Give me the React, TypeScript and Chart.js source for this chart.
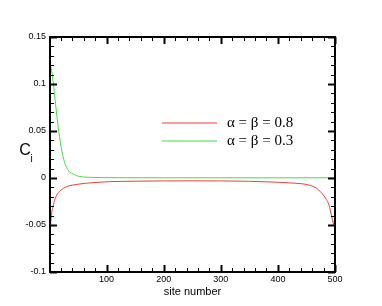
import React, { useEffect, useRef } from 'react';
import { Chart, registerables } from 'chart.js';

Chart.register(...registerables);

const redLabel = 'α = β = 0.8';
const greenLabel = 'α = β = 0.3';
const redColor = 'rgb(240,60,60)';
const greenColor = 'rgb(70,220,70)';

const redSites = [1, 2, 3, 4, 6, 8, 10, 13, 16, 20, 25, 32, 40, 50, 65, 85, 105, 150, 200, 250, 300, 350, 400, 420, 440, 456, 468, 475, 480, 485, 489, 492, 495, 497, 500];
const redValues = [-0.06, -0.05, -0.043, -0.037, -0.031, -0.026, -0.022, -0.018, -0.0155, -0.013, -0.0108, -0.0088, -0.0076, -0.0066, -0.0055, -0.0046, -0.0039, -0.0034, -0.0031, -0.003, -0.0031, -0.0035, -0.0045, -0.0052, -0.006, -0.0078, -0.011, -0.015, -0.0185, -0.023, -0.028, -0.035, -0.043, -0.048, -0.052];

const greenSites = [1, 4, 7, 10, 13, 16, 19, 22, 25, 28, 32, 36, 41, 48, 58, 70, 90, 120, 200, 300, 400, 500];
const greenValues = [0.121, 0.114, 0.1, 0.083, 0.066, 0.051, 0.038, 0.028, 0.02, 0.014, 0.009, 0.006, 0.0045, 0.0024, 0.0012, 0.0007, 0.0004, 0.0003, 0.0002, 0.0002, 0.0002, 0.0002];

const xTickValues = [100, 200, 300, 400, 500];
const yTickValues = [-0.1, -0.05, 0, 0.05, 0.1, 0.15];
const xRange = [1, 500];
const yRange = [-0.1, 0.15];
const xTitle = 'site number';
const yTitleMain = 'C';
const yTitleSub = 'i';
const legendColors = [redColor, greenColor];
const legendLabels = [redLabel, greenLabel];

const fmt = (v: number) => String(parseFloat(v.toFixed(3)));

const framePlugin = {
  id: 'frameTicks',
  afterDatasetsDraw(chart: any) {
    const { ctx, chartArea: a, scales } = chart;
    const xs = scales.x;
    const ys = scales.y;
    ctx.save();
    ctx.strokeStyle = '#000';
    const seg = (x1: number, y1: number, x2: number, y2: number) => {
      ctx.beginPath();
      ctx.moveTo(x1, y1);
      ctx.lineTo(x2, y2);
      ctx.stroke();
    };
    for (let v = 20; v <= xRange[1]; v += 20) {
      const px = Math.round(xs.getPixelForValue(v)) + 0.5;
      const major = v % 100 === 0;
      const len = major ? 7 : 4;
      ctx.lineWidth = major ? 2 : 1;
      seg(px, a.bottom, px, a.bottom - len);
      seg(px, a.top, px, a.top + len);
    }
    for (let i = -10; i <= 15; i++) {
      const py = Math.round(ys.getPixelForValue(i / 100)) + 0.5;
      const major = i % 5 === 0;
      const len = major ? 7 : 4;
      ctx.lineWidth = major ? 2 : 1;
      seg(a.left, py, a.left + len, py);
      seg(a.right, py, a.right - len, py);
    }
    ctx.lineWidth = 2;
    ctx.strokeRect(a.left, a.top, a.right - a.left, a.bottom - a.top);
    ctx.restore();
  },
};

const textPlugin = {
  id: 'texts',
  afterDraw(chart: any) {
    const { ctx, chartArea: a } = chart;
    ctx.save();
    ctx.fillStyle = '#000';
    ctx.font = '11px "Liberation Sans", Arial, sans-serif';
    ctx.textAlign = 'center';
    ctx.textBaseline = 'middle';
    ctx.fillText(xTitle, (a.left + a.right) / 2, 292);
    ctx.font = '16px "Liberation Sans", Arial, sans-serif';
    ctx.textAlign = 'center';
    ctx.textBaseline = 'middle';
    ctx.fillText(yTitleMain, 25, 151);
    ctx.font = '10px "Liberation Sans", Arial, sans-serif';
    ctx.textAlign = 'left';
    ctx.fillText(yTitleSub, 30.5, 159);
    const rows = [123, 141];
    for (let k = 0; k < legendLabels.length; k++) {
      const y = rows[k];
      ctx.strokeStyle = legendColors[k];
      ctx.lineWidth = 1;
      ctx.beginPath();
      ctx.moveTo(162, y);
      ctx.lineTo(217, y);
      ctx.stroke();
      ctx.fillStyle = '#000';
      ctx.font = '15px "Liberation Serif", "Times New Roman", serif';
      ctx.textAlign = 'left';
      ctx.textBaseline = 'middle';
      ctx.fillText(legendLabels[k], 227, y + 0.5);
    }
    ctx.restore();
  },
};

export default function App() {
  const ref = useRef<HTMLCanvasElement | null>(null);
  useEffect(() => {
    if (!ref.current) return;
    const chart = new Chart(ref.current, {
      type: 'line',
      data: {
        datasets: [
          {
            label: redLabel,
            data: redSites.map((s, i) => ({ x: s, y: redValues[i] })),
            borderColor: redColor,
            borderWidth: 1,
            pointRadius: 0,
            fill: false,
            cubicInterpolationMode: 'monotone',
          },
          {
            label: greenLabel,
            data: greenSites.map((s, i) => ({ x: s, y: greenValues[i] })),
            borderColor: greenColor,
            borderWidth: 1,
            pointRadius: 0,
            fill: false,
            cubicInterpolationMode: 'monotone',
          },
        ],
      },
      options: {
        animation: false,
        responsive: false,
        devicePixelRatio: 1,
        layout: { padding: { left: 0, top: 37, right: 47, bottom: 0 } },
        plugins: { legend: { display: false }, tooltip: { enabled: false } },
        scales: {
          x: {
            type: 'linear',
            min: xRange[0],
            max: xRange[1],
            grid: { display: false, drawTicks: false },
            border: { display: false },
            afterBuildTicks: (s: any) => {
              s.ticks = xTickValues.map((v) => ({ value: v }));
            },
            afterFit: (s: any) => {
              s.height = 34;
            },
            ticks: {
              color: '#000',
              font: { family: '"Liberation Sans", Arial, sans-serif', size: 9 },
              padding: 2,
              maxRotation: 0,
              autoSkip: false,
              callback: (v: any) => fmt(Number(v)),
            },
          },
          y: {
            type: 'linear',
            min: yRange[0],
            max: yRange[1],
            grid: { display: false, drawTicks: false },
            border: { display: false },
            afterBuildTicks: (s: any) => {
              s.ticks = yTickValues.map((v) => ({ value: v }));
            },
            afterFit: (s: any) => {
              s.width = 50;
            },
            ticks: {
              color: '#000',
              font: { family: '"Liberation Sans", Arial, sans-serif', size: 9 },
              padding: 4,
              autoSkip: false,
              callback: (v: any) => fmt(Number(v)),
            },
          },
        },
      },
      plugins: [framePlugin, textPlugin],
    } as any);
    return () => chart.destroy();
  }, []);
  return (
    <div style={{ position: 'fixed', left: 0, top: 0, width: 382, height: 306, background: '#fff' }}>
      <canvas ref={ref} width={382} height={306} style={{ display: 'block' }} />
    </div>
  );
}
